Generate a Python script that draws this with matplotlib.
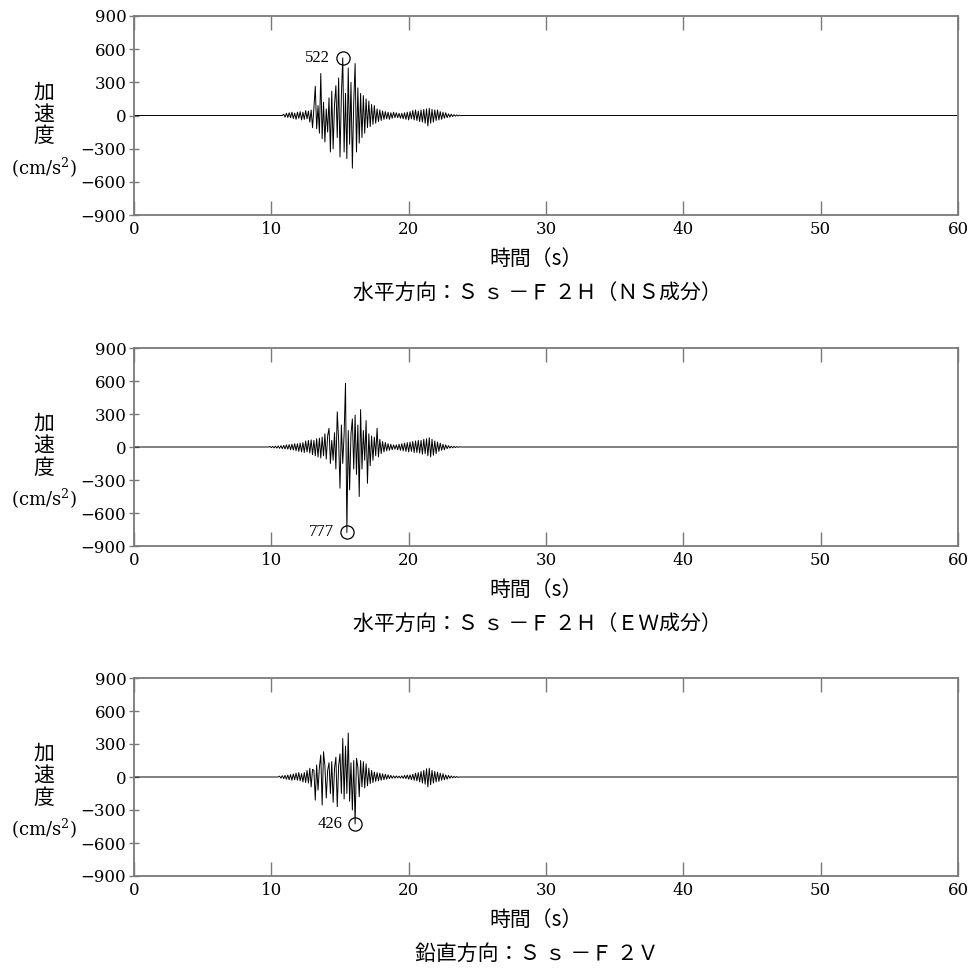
import numpy as np
import matplotlib
matplotlib.use("Agg")
import matplotlib.pyplot as plt

# ---------------- data ----------------
DT = 0.1  # sampling step of the digitised extremes (s)

ns_t0 = 10.8
ns_vals = [0, 12, -15, 20, -18, 25, -20, 30, -28, 22, -35, 30, -25, 35, -40, 30, -35, 45, -30, 40,
           -60, 50, -110, 70, 265, -120, 90, -160, 380, -210, 120, -240, 60, -150, 160, -330, 220, -300,
           100, 270, -200, 340, -375, 180, 522, -330, 200, -390, 430, -260, 300, -477, 120, 470, -330,
           250, -250, 200, -200, 180, -160, 150, -110, 130, -100, 100, -80, 90, -70, 60, -55, 50, -45,
           40, -35, 35, -30, 30, -35, 25, -25, 30, -20, 25, -20, 20, -25, 20, -30, 25, -35, 30, -40, 35,
           -30, 45, -40, 50, -45, 40, -55, 50, -60, 55, -70, 60, -95, 65, -70, 55, -60, 50, -45, 50, -40,
           35, -35, 30, -25, 25, -20, 15, -15, 12, -10, 8, -6, 5, -4, 3, -2, 0]
ns_peak_t, ns_peak = 15.2, 522

ew_t0 = 9.8
ew_vals = [0, 5, -6, 6, -8, 8, -10, 10, -12, 12, -15, 15, -18, 20, -20, 22, -25, 25, -28, 30, -35, 30,
           -40, 35, -45, 40, -50, 55, -45, 60, -55, 65, -70, 60, -80, 75, -90, 80, -100, 90, -80, 120,
           -110, 100, 170, -150, 60, -120, 130, -200, 320, 60, -375, 200, -150, 120, 580, -777, 150, -390,
           120, 255, -200, 290, -250, 200, -450, 340, -200, 150, -120, 240, -330, 120, -170, 100, -120,
           90, -80, 170, -90, 70, -60, 50, -45, 40, -35, 30, -30, 25, -25, 20, -20, 20, -25, 25, -30, 30,
           -35, 35, -40, 40, -45, 45, -40, 50, -50, 55, -50, 60, -55, 60, -65, 70, -60, 75, -80, 85, -90,
           70, -75, 55, -60, 45, -40, 35, -30, 25, -25, 20, -15, 12, -10, 8, -8, 6, -5, 4, -3, 2, 0]
ew_peak_t, ew_peak = 15.5, -777

ud_t0 = 10.5
ud_vals = [0, 8, -10, 12, -15, 15, -20, 18, -25, 22, -30, 28, -25, 35, -30, 40, -35, 30, -45, 40, -50,
           60, -55, 80, -90, 70, 60, -210, 110, -120, 90, 200, -255, 230, 100, -190, 60, 130, -150, 140,
           -230, 80, 180, -270, 100, 210, -150, 350, -200, 280, -150, 400, -220, 130, -300, 150, -426,
           170, 90, -180, 150, -90, 140, -100, 120, -80, 80, -60, 60, -50, 45, -40, 40, -35, 35, -30, 30,
           -25, 25, -20, 20, -15, 15, -12, 10, -10, 10, -8, 8, -10, 10, -12, 15, -15, 18, -20, 20, -25,
           25, -30, 35, -35, 40, -45, 50, -55, 60, -65, 75, -90, 80, -70, 60, -55, 50, -45, 45, -40, 35,
           -30, 30, -25, 20, -20, 15, -12, 10, -8, 6, -5, 4, -3, 0]
ud_peak_t, ud_peak = 16.1, -426

records = [
    (ns_t0, ns_vals, ns_peak_t, ns_peak, "水平方向：Ｓ ｓ －Ｆ ２Ｈ（ＮＳ成分）"),
    (ew_t0, ew_vals, ew_peak_t, ew_peak, "水平方向：Ｓ ｓ －Ｆ ２Ｈ（ＥＷ成分）"),
    (ud_t0, ud_vals, ud_peak_t, ud_peak, "鉛直方向：Ｓ ｓ －Ｆ ２Ｖ"),
]

x_ticks = [0, 10, 20, 30, 40, 50, 60]
y_ticks = [-900, -600, -300, 0, 300, 600, 900]
xlabel = "時間（s）"
ylabel_chars = ["加", "速", "度"]
ylabel_unit = "(cm/s$^{2}$)"

# ---------------- layout ----------------
W, H = 976, 974
fig = plt.figure(figsize=(W / 100, H / 100), dpi=100)
fig.patch.set_facecolor("white")

def fx(px):
    return px / W

def fy(py):
    return 1 - py / H

JP = ["Noto Sans CJK JP", "DejaVu Sans"]
SERIF = "DejaVu Serif"
plt.rcParams["mathtext.fontset"] = "dejavuserif"

left_px, right_px = 134, 958
tops = [16, 348, 678]
bots = [215, 546, 876]
spine_col = "#7a7a7a"

for (t0, vals, pt, pv, caption), top, bot in zip(records, tops, bots):
    ax = fig.add_axes([fx(left_px), fy(bot), fx(right_px) - fx(left_px), fy(top) - fy(bot)])
    v = np.asarray(vals, dtype=float)
    t = t0 + DT * np.arange(len(v))
    t = np.concatenate([[0.0], t, [60.0]])
    v = np.concatenate([[0.0], v, [0.0]])
    ax.plot(t, v, color="black", lw=0.7)
    ax.plot([pt], [pv], marker="o", ms=9.5, mfc="none", mec="black", mew=0.9, ls="none")
    ax.annotate(f"{abs(pv)}", xy=(pt, pv), xytext=(-9, 0), textcoords="offset points",
                ha="right", va="center", fontsize=12, family="Liberation Serif")
    ax.set_xlim(0, 60)
    ax.set_ylim(-900, 900)
    ax.set_xticks(x_ticks)
    ax.set_yticks(y_ticks)
    ax.tick_params(axis="x", direction="in", length=10, width=1.0, color=spine_col,
                   top=True, bottom=True, pad=4, labelsize=12)
    ax.tick_params(axis="y", direction="inout", length=7, width=1.0, color=spine_col,
                   left=True, right=False, pad=2, labelsize=12)
    for lab in ax.get_xticklabels() + ax.get_yticklabels():
        lab.set_family(SERIF)
    for s in ax.spines.values():
        s.set_color(spine_col)
        s.set_linewidth(1.3)

    zero_px = (top + bot) / 2
    for k, ch in enumerate(ylabel_chars):
        fig.text(fx(44), fy(zero_px - 23 + 22 * k), ch, ha="center", va="center",
                 fontsize=15, family=JP)
    fig.text(fx(44), fy(zero_px + 52), ylabel_unit, ha="center", va="center",
             fontsize=13, family=SERIF)

    fig.text(fx(536), fy(bot + 44), xlabel, ha="center", va="center", fontsize=15, family=JP)
    fig.text(fx(537), fy(bot + 78), caption, ha="center", va="center", fontsize=15, family=JP)

fig.savefig("out.png", dpi=100, facecolor="white")
